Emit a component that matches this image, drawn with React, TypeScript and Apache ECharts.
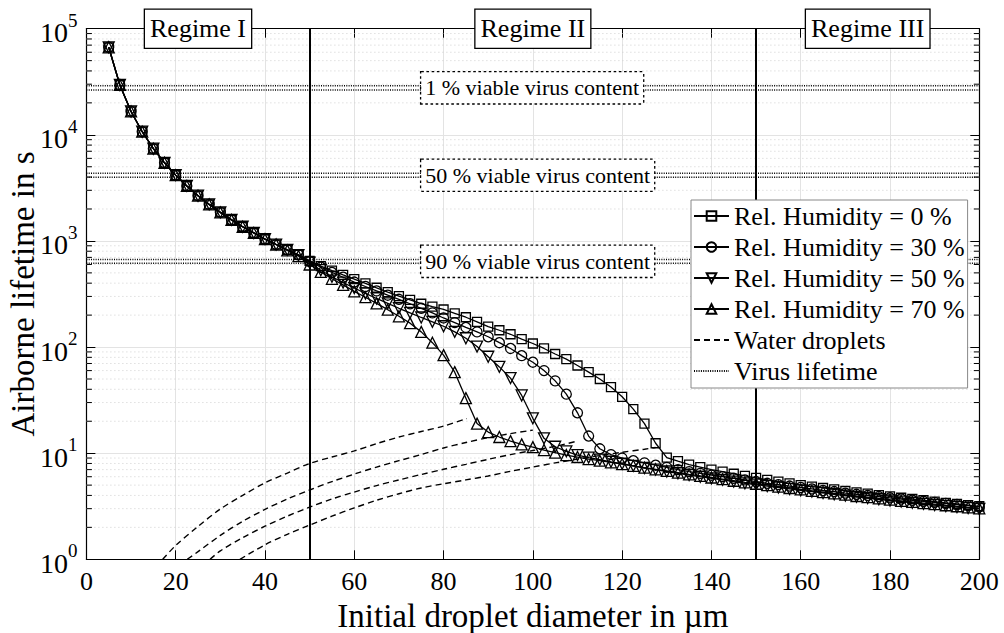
import React, { useEffect, useRef } from 'react';
import * as echarts from 'echarts';

const FONT = "'Liberation Serif', 'Times New Roman', 'DejaVu Serif', serif";

// Initial droplet diameters (µm) of the simulated points
const diameters = [5, 7.5, 10, 12.5, 15, 17.5, 20, 22.5, 25, 27.5, 30, 32.5, 35, 37.5, 40, 42.5, 45, 47.5,
  50, 52.5, 55, 57.5, 60, 62.5, 65, 67.5, 70, 72.5, 75, 77.5, 80, 82.5, 85, 87.5, 90, 92.5, 95, 97.5,
  100, 102.5, 105, 107.5, 110, 112.5, 115, 117.5, 120, 122.5, 125, 127.5, 130, 132.5, 135, 137.5,
  140, 142.5, 145, 147.5, 150, 152.5, 155, 157.5, 160, 162.5, 165, 167.5, 170, 172.5, 175, 177.5,
  180, 182.5, 185, 187.5, 190, 192.5, 195, 197.5, 200];

// Airborne lifetime (s) per relative humidity
const lifetimeRH0 = [66800, 29500, 16600, 10700, 7400, 5450, 4170, 3300, 2670, 2210, 1860, 1580, 1360, 1190, 1040, 925, 825, 740,
  650, 580, 525, 478, 437, 398, 362, 330, 302, 278,
  256, 240, 226, 208, 191, 173, 156, 144, 132, 119,
  108, 97, 86, 77, 67, 58, 50, 42, 34, 26,
  19, 12.4, 9.1, 8.4, 7.8, 7.4, 7.0, 6.7, 6.4, 6.1,
  5.85, 5.6, 5.4, 5.2, 5.0, 4.85, 4.7, 4.55, 4.4, 4.28,
  4.15, 4.03, 3.92, 3.8, 3.7, 3.6, 3.5, 3.4, 3.32, 3.24, 3.16];

const lifetimeRH30 = [66800, 29500, 16600, 10700, 7400, 5450, 4170, 3300, 2670, 2210, 1860, 1580, 1360, 1190, 1040, 925, 825, 740,
  640, 565, 505, 455, 410, 372, 338, 308, 282, 256,
  232, 210, 188, 170, 153, 139, 125, 110, 97, 83,
  72, 60, 48, 36, 24, 14.5, 11.0, 9.7, 9.0, 8.5,
  8.1, 7.7, 7.35, 7.0, 6.7, 6.45, 6.2, 6.0, 5.8, 5.6,
  5.4, 5.2, 5.05, 4.9, 4.75, 4.6, 4.45, 4.35, 4.2, 4.1,
  4.0, 3.9, 3.8, 3.7, 3.6, 3.52, 3.44, 3.36, 3.28, 3.2, 3.12];

const lifetimeRH50 = [66800, 29500, 16600, 10700, 7400, 5450, 4170, 3300, 2670, 2210, 1860, 1580, 1360, 1190, 1040, 925, 825, 735,
  625, 530, 460, 405, 360, 320, 287, 258, 232, 210,
  190, 173, 157, 139, 121, 101, 81, 65, 51, 35,
  21.3, 13.8, 11.5, 10.4, 9.6, 9.1, 8.7, 8.3, 7.95, 7.6,
  7.25, 7.0, 6.72, 6.47, 6.22, 6.0, 5.8, 5.6, 5.4, 5.2,
  5.05, 4.9, 4.75, 4.6, 4.47, 4.34, 4.22, 4.1, 3.98, 3.88,
  3.78, 3.68, 3.58, 3.5, 3.41, 3.33, 3.25, 3.17, 3.1, 3.04, 2.98];

const lifetimeRH70 = [66800, 29500, 16600, 10700, 7400, 5450, 4170, 3300, 2670, 2210, 1860, 1580, 1360, 1190, 1040, 925, 815, 720,
  600, 510, 440, 385, 335, 295, 258, 225, 195, 168,
  139, 110, 84, 58, 33, 19, 15.8, 14.2, 13.0, 12.1,
  11.4, 10.7, 10.1, 9.6, 9.2, 8.8, 8.5, 8.2, 7.9, 7.6,
  7.3, 7.05, 6.8, 6.55, 6.3, 6.1, 5.9, 5.7, 5.5, 5.3,
  5.15, 5.0, 4.85, 4.7, 4.55, 4.42, 4.3, 4.18, 4.06, 3.95,
  3.85, 3.75, 3.65, 3.56, 3.47, 3.39, 3.31, 3.23, 3.16, 3.09, 3.02];

// Pure water droplets [diameter, lifetime]
const waterRH0 = [[34.4, 1], [40, 1.37], [45, 1.72], [50, 2.1], [55, 2.55], [60, 3.05], [65, 3.6], [70, 4.15], [75, 4.7],
  [80, 5.15], [85, 5.6], [90, 6.1], [95, 6.75], [100, 7.4], [105, 8.1], [110, 8.8], [115, 9.5], [120, 10.2], [125, 10.9], [127.5, 11.3]];
const waterRH30 = [[27.7, 1], [30, 1.2], [35, 1.6], [40, 2.05], [45, 2.55], [50, 3.1], [55, 3.7], [60, 4.3], [65, 4.95], [70, 5.6],
  [75, 6.3], [80, 7.05], [85, 7.85], [90, 8.75], [95, 9.7], [100, 10.6], [105, 11.6], [110, 13.0]];
const waterRH50 = [[22.6, 1], [25, 1.18], [30, 1.68], [35, 2.28], [40, 2.95], [45, 3.7], [50, 4.5], [55, 5.4], [60, 6.35], [65, 7.4],
  [70, 8.5], [75, 9.7], [80, 11.2], [85, 12.6], [90, 14.0], [95, 15.3], [100, 16.5]];
const waterRH70 = [[17.1, 1], [20, 1.35], [25, 2.04], [30, 2.98], [35, 4.0], [40, 5.25], [45, 6.5], [50, 8.0], [55, 9.2], [60, 10.5],
  [65, 12.3], [70, 14.2], [75, 16.0], [80, 18.0], [85.2, 21.2]];

// Virus lifetime levels (s): pairs of lines
const virusLevels = [[29000, 26500], [4350, 3980], [670, 615]];
const virusLabels = ['1 % viable virus content', '50 % viable virus content', '90 % viable virus content'];
const virusLabelX = 75;

const regimeBounds = [50, 150];
const regimeNames = ['Regime I', 'Regime II', 'Regime III'];
const regimeCenters = [25, 100, 175];

const xTickInterval = 20;
const yMin = 1;
const yMax = 100000;

const humidityNames = ['Rel. Humidity = 0 %', 'Rel. Humidity = 30 %', 'Rel. Humidity = 50 %', 'Rel. Humidity = 70 %'];
const waterName = 'Water droplets';
const virusName = 'Virus lifetime';

const minorValues: number[] = [];
for (let e = 0; e < 5; e++) for (let m = 2; m <= 9; m++) minorValues.push(m * Math.pow(10, e));

export default function App() {
  const ref = useRef<HTMLDivElement>(null);
  useEffect(() => {
    if (!ref.current) return;
    const chart = echarts.init(ref.current, undefined, { renderer: 'svg' });

    const lineCol = '#000';
    const markerStyle = { color: 'rgba(255,255,255,0)', borderColor: lineCol, borderWidth: 1.3 };
    const curve = (name: string, vals: number[], symbol: string, size: number) => ({
      name,
      type: 'line',
      data: diameters.map((d, i) => [d, vals[i]]),
      symbol,
      symbolSize: size,
      showSymbol: true,
      lineStyle: { color: lineCol, width: 1.3 },
      itemStyle: markerStyle,
      z: 4,
      silent: true,
    });
    const water = (vals: number[][]) => ({
      name: waterName,
      type: 'line',
      data: vals,
      smooth: 0.3,
      symbol: 'none',
      lineStyle: { color: lineCol, width: 1.4, type: [6, 4] },
      itemStyle: { color: lineCol },
      z: 3,
      silent: true,
    });

    const virusSeries: any[] = [];
    virusLevels.forEach((pair, k) => {
      pair.forEach((v, j) => {
        virusSeries.push({
          name: virusName,
          type: 'line',
          data: [[0, v], [200, v]],
          symbol: 'none',
          lineStyle: { color: '#000', width: 1.5, type: [1, 1.3] },
          itemStyle: { color: '#000' },
          z: 2,
          silent: true,
          markPoint: j === 0 ? {
            symbol: 'rect',
            symbolSize: 0,
            silent: true,
            itemStyle: { color: 'rgba(0,0,0,0)' },
            label: {
              show: true,
              position: 'right',
              distance: 0,
              formatter: virusLabels[k],
              fontSize: 22,
              fontFamily: FONT,
              color: '#000',
              backgroundColor: '#fff',
              borderColor: '#000',
              borderWidth: 1.3,
              borderType: 'dotted',
              padding: [5, 4, 4, 4],
            },
            data: [{ coord: [virusLabelX, Math.sqrt(pair[0] * pair[1])] }],
          } : undefined,
        });
      });
    });

    const helper = {
      name: 'regimes',
      type: 'line',
      data: [],
      z: 10,
      silent: true,
      markLine: {
        silent: true,
        symbol: ['none', 'none'],
        label: { show: false },
        lineStyle: { color: '#000', width: 2, type: 'solid' },
        data: regimeBounds.map((b) => ({ xAxis: b })),
      },
      markPoint: {
        symbol: 'rect',
        symbolSize: 0,
        silent: true,
        itemStyle: { color: 'rgba(0,0,0,0)' },
        label: {
          show: true,
          position: 'inside',
          fontSize: 26,
          lineHeight: 26,
          fontFamily: FONT,
          color: '#000',
          backgroundColor: '#fff',
          borderColor: '#000',
          borderWidth: 1.3,
          padding: [6, 5, 6, 5],
          formatter: (p: any) => p.name,
        },
        data: regimeNames.map((n, i) => ({ name: n, coord: [regimeCenters[i], yMax] })),
      },
    };

    const minorGrid = {
      type: 'custom',
      silent: true,
      z: 1,
      data: minorValues.map((v) => [0, v]),
      renderItem: (params: any, api: any) => {
        const v = api.value(1);
        const a = api.coord([0, v]);
        const b = api.coord([200, v]);
        return {
          type: 'group',
          children: [
            { type: 'line', shape: { x1: a[0], y1: a[1], x2: b[0], y2: b[1] }, style: { stroke: '#cfcfcf', lineWidth: 1, lineDash: [1, 3] } },
            { type: 'line', shape: { x1: a[0], y1: a[1], x2: a[0] + 5.5, y2: a[1] }, style: { stroke: '#000', lineWidth: 1 } },
            { type: 'line', shape: { x1: b[0] - 5.5, y1: b[1], x2: b[0], y2: b[1] }, style: { stroke: '#000', lineWidth: 1 } },
          ],
        };
      },
    };

    const axisLine = { show: true, onZero: false, lineStyle: { color: '#000', width: 1.2 } };
    const axisTick = { show: true, inside: true, length: 9, lineStyle: { color: '#000', width: 1 } };
    const noSymbol = { color: 'rgba(0,0,0,0)', borderColor: 'rgba(0,0,0,0)', borderWidth: 0 };

    const option: any = {
      animation: false,
      backgroundColor: '#fff',
      grid: { left: 86.4, right: 24.7, top: 28.7, bottom: 73.7, containLabel: false, outerBoundsMode: 'none' },
      legend: {
        orient: 'vertical',
        left: 691,
        top: 200,
        data: [...humidityNames, { name: waterName, itemStyle: noSymbol }, { name: virusName, itemStyle: noSymbol }],
        backgroundColor: '#fff',
        borderColor: '#888',
        borderWidth: 1,
        padding: [3, 3, 4, 2],
        itemGap: 5,
        itemWidth: 35,
        itemHeight: 12,
        textStyle: { fontSize: 26, lineHeight: 26, fontFamily: FONT, color: '#000' },
        selectedMode: false,
        z: 20,
      },
      xAxis: [
        {
          type: 'value', min: 0, max: 200, interval: xTickInterval, position: 'bottom',
          axisLine, axisTick,
          axisLabel: { fontSize: 26, fontFamily: FONT, color: '#000', margin: 9 },
          splitLine: { show: true, lineStyle: { color: '#e3e3e3', width: 1 } },
          name: 'Initial droplet diameter in µm', nameLocation: 'middle', nameGap: 34,
          nameTextStyle: { fontSize: 33, fontFamily: FONT, color: '#000' },
        },
        {
          type: 'value', min: 0, max: 200, interval: xTickInterval, position: 'top',
          axisLine, axisTick, axisLabel: { show: false }, splitLine: { show: false },
        },
      ],
      yAxis: [
        {
          type: 'log', logBase: 10, min: yMin, max: yMax, position: 'left',
          axisLine, axisTick,
          axisLabel: {
            margin: 9,
            formatter: (v: number) => `{b|10}{s|${Math.round(Math.log10(v))}}`,
            rich: {
              b: { fontSize: 28, fontFamily: FONT, color: '#000', verticalAlign: 'bottom', lineHeight: 36 },
              s: { fontSize: 19, fontFamily: FONT, color: '#000', verticalAlign: 'top', lineHeight: 20 },
            },
          },
          splitLine: { show: true, lineStyle: { color: '#e3e3e3', width: 1 } },
          name: 'Airborne lifetime in s', nameLocation: 'middle', nameGap: 47, nameMoveOverlap: false,
          nameTextStyle: { fontSize: 33, fontFamily: FONT, color: '#000' },
        },
        {
          type: 'log', logBase: 10, min: yMin, max: yMax, position: 'right',
          axisLine, axisTick, axisLabel: { show: false }, splitLine: { show: false },
        },
      ],
      series: [
        minorGrid,
        ...virusSeries,
        water(waterRH0), water(waterRH30), water(waterRH50), water(waterRH70),
        curve(humidityNames[0], lifetimeRH0, 'rect', 9),
        curve(humidityNames[1], lifetimeRH30, 'circle', 10),
        curve(humidityNames[2], lifetimeRH50, 'path://M0,0L2,0L1,1.6Z', 11),
        curve(humidityNames[3], lifetimeRH70, 'triangle', 11),
        helper,
      ],
    };

    chart.setOption(option);
    return () => chart.dispose();
  }, []);
  return <div ref={ref} style={{ position: 'fixed', left: 0, top: 0, width: 1004, height: 633, background: '#fff' }} />;
}
